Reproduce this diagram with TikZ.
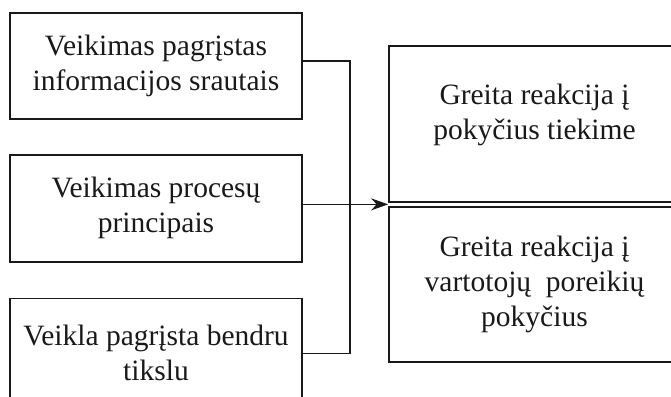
\documentclass[tikz,border=0pt]{standalone}
\usepackage{fontspec}
\setmainfont{Liberation Serif}
\usetikzlibrary{arrows.meta, positioning, calc}

\begin{document}
\begin{tikzpicture}[
    x=1pt, y=-1pt,
    font=\fontsize{29.5}{35}\selectfont,
    text=black!90,
    box/.style={rectangle, draw=black!90, line width=1.7pt, inner sep=0pt,
                minimum width=#1, align=center},
    box/.default=292pt,
    link/.style={draw=black!90, line width=1.4pt},
    arr/.style={link, -{Stealth[length=17pt, width=12pt]}},
    node distance=34pt
  ]
  \clip (0,0) rectangle (671,396);

  \node[box, minimum height=106pt] (inf) at (156,66) {Veikimas pagrįstas\\informacijos srautais};
  \node[box, minimum height=107pt, below=of inf] (proc) {Veikimas procesų\\principais};
  \node[box, minimum height=110pt, below=35pt of proc] (tik) {Veikla pagrįsta bendru\\tikslu};

  \node[box=291pt, minimum height=156pt] (tiek) at (534.5,124) {};
  \node[align=center] (tiekT) at ([yshift=9.5pt]tiek.center) {Greita reakcija į\\pokyčius tiekime};
  \node[box=291pt, minimum height=155pt, below=3pt of tiek] (por) {Greita reakcija į\\vartotojų\ \ poreikių\\pokyčius};

  \coordinate (bus) at (350,0);
  \coordinate (mid) at ($(tiek.south west)!0.5!(por.north west)$);

  \draw[link] ([yshift=5pt]inf.east) -| (bus |- tik.east) -- (tik.east);
  \draw[arr] (proc.east |- mid) -- (mid);

\end{tikzpicture}
\end{document}
